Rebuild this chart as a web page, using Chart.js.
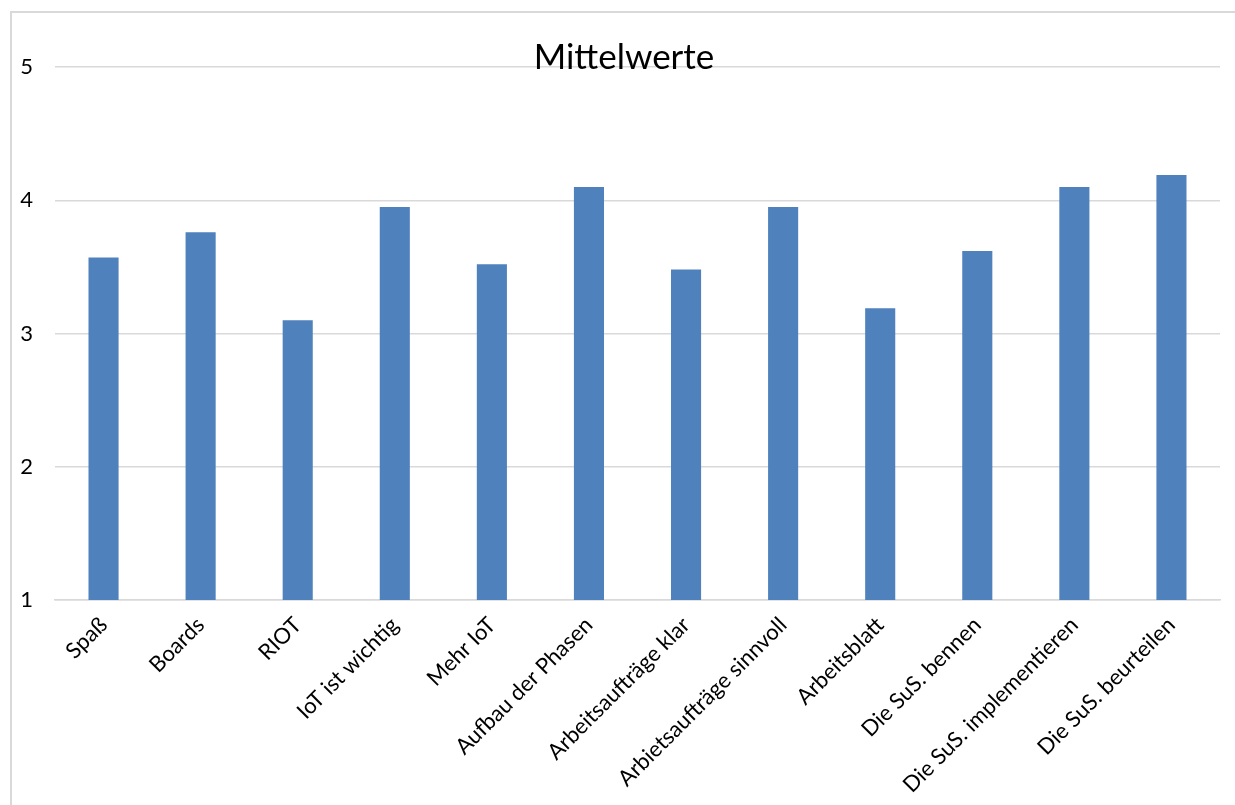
<!DOCTYPE html>
<html>
<head>
<meta charset="utf-8">
<script src="https://cdn.jsdelivr.net/npm/chart.js@4"></script>
<style>
  html, body { margin: 0; padding: 0; background: #fff; overflow: hidden; }
  #wrap { position: relative; width: 1235px; height: 805px; }
  #frame { position: absolute; left: 10px; top: 11px; width: 1300px; height: 900px;
           border-left: 2px solid #d9d9d9; border-top: 2px solid #d9d9d9; pointer-events: none; }
</style>
</head>
<body>
<div id="wrap">
  <canvas id="chart" width="1235" height="805"></canvas>
  <div id="frame"></div>
</div>
<script>
// Kategorien und Mittelwerte
const categories = ["Spaß", "Boards", "RIOT", "IoT ist wichtig", "Mehr IoT", "Aufbau der Phasen",
    "Arbeitsaufträge klar", "Arbietsaufträge sinnvoll", "Arbeitsblatt", "Die SuS. bennen",
    "Die SuS. implementieren", "Die SuS. beurteilen"];
const means = [3.57, 3.76, 3.10, 3.95, 3.52, 4.10, 3.48, 3.95, 3.19, 3.62, 4.10, 4.19];
const yTicks = [1, 2, 3, 4, 5];

const fontFamily = "Lato, 'Open Sans', sans-serif";

// Titel etwas nach rechts schieben (Excel zentriert über den ganzen Rahmen)
const shiftTitle = {
    id: 'shiftTitle',
    afterLayout: function (chart) {
        if (chart.titleBlock) chart.titleBlock.left += 28;
    }
};

new Chart(document.getElementById('chart'), {
    type: 'bar',
    data: {
        labels: categories,
        datasets: [{
            label: 'Mittelwerte',
            data: means,
            backgroundColor: '#4f81bd',
            barPercentage: 0.31,
            categoryPercentage: 1.0
        }]
    },
    plugins: [shiftTitle],
    options: {
        responsive: false, animation: false,
        layout: { padding: { left: 0, right: 15, top: 0, bottom: 0 } },
        plugins: {
            legend: { display: false },
            tooltip: { enabled: false },
            title: {
                display: true,
                text: 'Mittelwerte',
                color: '#000',
                font: { family: fontFamily, size: 35, weight: 'normal' },
                padding: { top: 37, bottom: -12 }
            }
        },
        scales: {
            x: {
                grid: { display: false },
                border: { display: true, color: '#d9d9d9', width: 1.5 },
                ticks: {
                    color: '#000',
                    font: { family: fontFamily, size: 22 },
                    minRotation: 45, maxRotation: 45,
                    autoSkip: false,
                    padding: 4
                },
                afterFit: function (scale) { scale.height = 205; }
            },
            y: {
                min: 1, max: 5,
                afterBuildTicks: function (scale) {
                    scale.ticks = yTicks.map(v => ({ value: v }));
                },
                grid: { color: '#d9d9d9', lineWidth: 1.5, drawTicks: false },
                border: { display: false },
                ticks: {
                    color: '#000',
                    font: { family: fontFamily, size: 22 },
                    padding: 22
                },
                afterFit: function (scale) { scale.width = 55; }
            }
        }
    }
});
</script>
</body>
</html>
